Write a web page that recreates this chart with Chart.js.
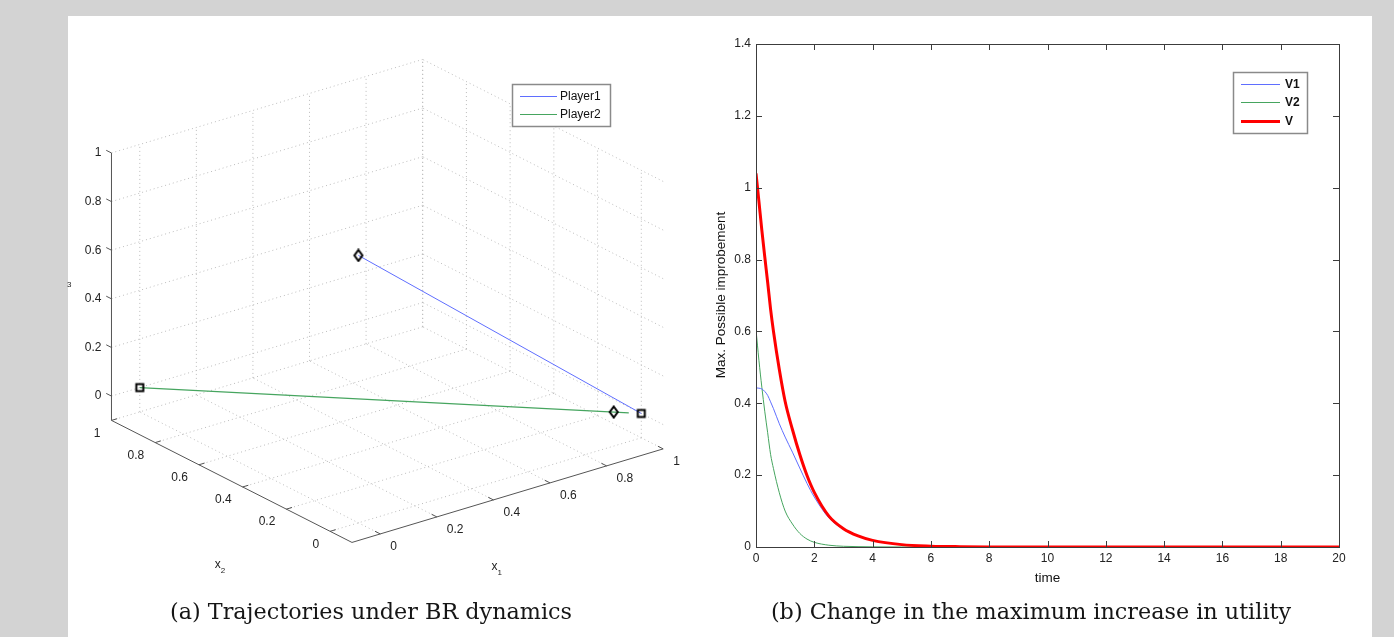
<!DOCTYPE html>
<html>
<head>
<meta charset="utf-8">
<script src="https://cdn.jsdelivr.net/npm/chart.js@4.4.1/dist/chart.umd.min.js"></script>
<style>
body{margin:0;background:#d3d3d3;width:1394px;height:637px;overflow:hidden;position:relative;font-family:"Liberation Sans",Arial,sans-serif}
#panel{position:absolute;left:68px;top:16px;width:1304px;height:621px;background:#fff}
#c1{position:absolute;left:0;top:0}
#c2{position:absolute;left:700px;top:0}
.cap{position:absolute;top:597px;font-family:"DejaVu Serif",serif;font-size:22.3px;line-height:28px;color:#151515;white-space:nowrap;transform:translateX(-50%)}
</style>
</head>
<body>
<div id="panel"></div>
<canvas id="c1" width="700" height="637"></canvas>
<canvas id="c2" width="694" height="637"></canvas>
<div class="cap" style="left:371px">(a) Trajectories under BR dynamics</div>
<div class="cap" style="left:1031px">(b) Change in the maximum increase in utility</div>
<script>
// ---- left plot: trajectories on the simplex (x1, x2, x3) ----
var axisTicks = [0, 0.2, 0.4, 0.6, 0.8, 1];
var axisMin = -0.1, axisMax = 1;
var player1X1 = [0, 1], player1X2 = [0, 0], player1X3 = [1, 0];
var player2X1 = [0, 0.975], player2X2 = [1, 0.025], player2X3 = [0, 0];
// diamond = start, square = end
var diamondX1 = [0, 0.945], diamondX2 = [0, 0.055], diamondX3 = [1, 0];
var squareX1 = [1, 0], squareX2 = [0, 1], squareX3 = [0, 0];

// ---- right plot ----
var timeVals = [0, 0.1, 0.2, 0.3, 0.4, 0.5, 0.6, 0.8, 1.0, 1.25, 1.5, 1.75, 2.0, 2.5, 3.0, 3.5, 4.0, 5.0, 6.0, 7.0, 8.0, 10, 12, 14, 16, 18, 20];
var v1Vals = [0.443, 0.442, 0.440, 0.433, 0.422, 0.404, 0.385, 0.343, 0.306, 0.264, 0.220, 0.177, 0.139, 0.081, 0.049, 0.030, 0.018, 0.0065, 0.0024, 0.0009, 0.0003, 0.0001, 0, 0, 0, 0, 0];
var v2Vals = [0.605, 0.520, 0.445, 0.378, 0.318, 0.258, 0.218, 0.151, 0.100, 0.064, 0.038, 0.022, 0.013, 0.005, 0.002, 0.001, 0.0005, 0.0001, 0, 0, 0, 0, 0, 0, 0, 0, 0];
var vVals = [1.04, 0.962, 0.882, 0.808, 0.737, 0.662, 0.600, 0.494, 0.405, 0.327, 0.258, 0.199, 0.152, 0.086, 0.051, 0.031, 0.0185, 0.0066, 0.0024, 0.0009, 0.0003, 0.0001, 0, 0, 0, 0, 0];
var xTicks2 = [0, 2, 4, 6, 8, 10, 12, 14, 16, 18, 20];

// view of the 3d box (az -37.5, el 30 like matlab), screen units of the left canvas
var view = {ox: 352, oy: 546, ax: [287, -86.4], bx: [-221.8, -112.7], cz: -247};
function proj(x1, x2, x3) {
    var a = x1 - axisMin, b = x2 - axisMin, c = x3 - axisMin;
    return {x: view.ox + a * view.ax[0] + b * view.bx[0], y: view.oy + a * view.ax[1] + b * view.bx[1] + c * view.cz};
}
function seg(list, p, q) {
    list.push(proj(p[0], p[1], p[2]), proj(q[0], q[1], q[2]), {x: null, y: null});
}
function path(a, b, c) {
    var out = [];
    for (var i = 0; i < a.length; i++) out.push(proj(a[i], b[i], c[i]));
    return out;
}

var gridPts = [];
for (var i = 0; i < axisTicks.length; i++) {
    var t = axisTicks[i];
    seg(gridPts, [t, axisMax, axisMin], [t, axisMax, axisMax]);   // back-left wall verticals
    seg(gridPts, [axisMin, axisMax, t], [axisMax, axisMax, t]);   // back-left wall horizontals
    seg(gridPts, [axisMax, t, axisMin], [axisMax, t, axisMax]);   // back-right wall verticals
    seg(gridPts, [axisMax, axisMin, t], [axisMax, axisMax, t]);   // back-right wall horizontals
    seg(gridPts, [t, axisMin, axisMin], [t, axisMax, axisMin]);   // floor
    seg(gridPts, [axisMin, t, axisMin], [axisMax, t, axisMin]);
}
var axisPts = [];
seg(axisPts, [axisMin, axisMin, axisMin], [axisMax, axisMin, axisMin]);
seg(axisPts, [axisMin, axisMin, axisMin], [axisMin, axisMax, axisMin]);
seg(axisPts, [axisMin, axisMax, axisMin], [axisMin, axisMax, axisMax]);
for (var i = 0; i < axisTicks.length; i++) {
    var t = axisTicks[i];
    seg(axisPts, [t, axisMin, axisMin], [t, axisMin + 0.024, axisMin]);
    seg(axisPts, [axisMin, t, axisMin], [axisMin + 0.02, t, axisMin]);
    seg(axisPts, [axisMin, axisMax, t], [axisMin, axisMax + 0.024, t]);
}

function makeMarker(kind) {
    var c = document.createElement('canvas');
    c.width = 12; c.height = 14;
    var g = c.getContext('2d');
    g.strokeStyle = '#000'; g.lineWidth = 2;
    g.beginPath();
    if (kind == 'diamond') {
        g.moveTo(6, 1.5); g.lineTo(10, 7); g.lineTo(6, 12.5); g.lineTo(2, 7); g.closePath();
    } else {
        g.rect(2.5, 3.5, 7, 7);
    }
    g.stroke();
    return c;
}

var labels3d = {
    id: 'labels3d',
    afterDraw: function (chart) {
        var ctx = chart.ctx, sx = chart.scales.x, sy = chart.scales.y;
        function px(p) { return {x: sx.getPixelForValue(p.x), y: sy.getPixelForValue(p.y)}; }
        ctx.save();
        ctx.fillStyle = '#222';
        ctx.font = '12px "Liberation Sans", Arial, sans-serif';
        ctx.textBaseline = 'middle';
        for (var i = 0; i < axisTicks.length; i++) {
            var t = axisTicks[i], txt = String(t), p;
            p = px(proj(t, axisMin, axisMin));
            ctx.textAlign = 'left'; ctx.fillText(txt, p.x + 10, p.y + 13);
            p = px(proj(axisMin, t, axisMin));
            ctx.textAlign = 'right'; ctx.fillText(txt, p.x - 11, p.y + 13);
            p = px(proj(axisMin, axisMax, t));
            ctx.textAlign = 'right'; ctx.fillText(txt, p.x - 10, p.y);
        }
        // axis names
        ctx.textAlign = 'left';
        var a1 = px(proj(0.45, axisMin, axisMin)), a2 = px(proj(axisMin, 0.45, axisMin));
        ctx.font = '12px "Liberation Sans", Arial, sans-serif';
        ctx.fillText('x', a1.x - 16, a1.y + 71);
        ctx.fillText('x', a2.x - 17, a2.y + 83);
        ctx.font = '8px "Liberation Sans", Arial, sans-serif';
        ctx.fillText('1', a1.x - 10, a1.y + 77);
        ctx.fillText('2', a2.x - 11, a2.y + 89);
        ctx.fillText('3', 67, 285);
        // legend
        ctx.fillStyle = '#fff';
        ctx.fillRect(512.5, 84.5, 98, 42);
        ctx.strokeStyle = '#8a8a8a'; ctx.lineWidth = 1.5;
        ctx.strokeRect(512.5, 84.5, 98, 42);
        var items = [['Player1', 'rgb(95,110,255)', 96], ['Player2', 'rgb(70,165,95)', 114]];
        ctx.font = '12px "Liberation Sans", Arial, sans-serif';
        for (var k = 0; k < items.length; k++) {
            ctx.strokeStyle = items[k][1]; ctx.lineWidth = 1;
            ctx.beginPath(); ctx.moveTo(520, items[k][2] + 0.5); ctx.lineTo(557, items[k][2] + 0.5); ctx.stroke();
            ctx.fillStyle = '#111';
            ctx.fillText(items[k][0], 560, items[k][2] + 1);
        }
        ctx.restore();
    }
};

new Chart(document.getElementById('c1'), {
    type: 'scatter',
    data: {
        datasets: [
            {label: 'start', data: path(diamondX1, diamondX2, diamondX3), pointStyle: makeMarker('diamond'), order: 0},
            {label: 'end', data: path(squareX1, squareX2, squareX3), pointStyle: makeMarker('square'), order: 0},
            {label: 'Player1', data: path(player1X1, player1X2, player1X3), showLine: true, borderColor: 'rgb(95,110,255)', borderWidth: 1, pointRadius: 0, order: 1},
            {label: 'Player2', data: path(player2X1, player2X2, player2X3), showLine: true, borderColor: 'rgb(70,165,95)', borderWidth: 1.2, pointRadius: 0, order: 1},
            {label: 'axes', data: axisPts, showLine: true, spanGaps: false, borderColor: '#555', borderWidth: 1, pointRadius: 0, order: 2},
            {label: 'grid', data: gridPts, showLine: true, spanGaps: false, borderColor: '#bcbcbc', borderWidth: 1, borderDash: [1, 3], pointRadius: 0, order: 3}
        ]
    },
    options: {
        responsive: false,
        animation: false,
        layout: {padding: 0},
        plugins: {legend: {display: false}, tooltip: {enabled: false}},
        scales: {
            x: {type: 'linear', min: 0, max: 700, display: false},
            y: {type: 'linear', min: 0, max: 637, reverse: true, display: false}
        }
    },
    plugins: [labels3d]
});

// ---- right chart ----
function pts(ys) {
    var out = [];
    for (var i = 0; i < timeVals.length; i++) out.push({x: timeVals[i], y: ys[i]});
    return out;
}
var frameTicks = {
    id: 'frameTicks',
    afterDraw: function (chart) {
        var ctx = chart.ctx, a = chart.chartArea, xs = chart.scales.x, ys = chart.scales.y;
        ctx.save();
        ctx.strokeStyle = '#3c3c3c'; ctx.lineWidth = 1;
        ctx.strokeRect(Math.round(a.left) + 0.5, Math.round(a.top) + 0.5, Math.round(a.right - a.left), Math.round(a.bottom - a.top));
        ctx.beginPath();
        xs.ticks.forEach(function (t) {
            var p = Math.round(xs.getPixelForValue(t.value)) + 0.5;
            ctx.moveTo(p, a.bottom); ctx.lineTo(p, a.bottom - 6);
            ctx.moveTo(p, a.top); ctx.lineTo(p, a.top + 6);
        });
        ys.ticks.forEach(function (t) {
            var p = Math.round(ys.getPixelForValue(t.value)) + 0.5;
            ctx.moveTo(a.left, p); ctx.lineTo(a.left + 6, p);
            ctx.moveTo(a.right, p); ctx.lineTo(a.right - 6, p);
        });
        ctx.stroke();
        // axis titles
        ctx.fillStyle = '#111';
        ctx.font = '13.5px "Liberation Sans", Arial, sans-serif';
        ctx.textAlign = 'center'; ctx.textBaseline = 'middle';
        ctx.fillText('time', (a.left + a.right) / 2, 578);
        ctx.translate(21, 295); ctx.rotate(-Math.PI / 2);
        ctx.fillText('Max. Possible improbement', 0, 0);
        ctx.setTransform(1, 0, 0, 1, 0, 0);
        // legend
        ctx.fillStyle = '#fff';
        ctx.fillRect(533.5, 72.5, 74, 61);
        ctx.strokeStyle = '#8a8a8a'; ctx.lineWidth = 1.5;
        ctx.strokeRect(533.5, 72.5, 74, 61);
        var items = [['V1', 'rgb(95,110,255)', 1, 84], ['V2', 'rgb(70,165,95)', 1, 102], ['V', 'rgb(255,0,0)', 3, 121]];
        ctx.textAlign = 'left';
        ctx.font = 'bold 12px "Liberation Sans", Arial, sans-serif';
        items.forEach(function (it) {
            ctx.strokeStyle = it[1]; ctx.lineWidth = it[2];
            ctx.beginPath(); ctx.moveTo(541, it[3] + 0.5); ctx.lineTo(580, it[3] + 0.5); ctx.stroke();
            ctx.fillStyle = '#111';
            ctx.fillText(it[0], 585, it[3] + 1);
        });
        ctx.restore();
    }
};

new Chart(document.getElementById('c2'), {
    type: 'line',
    data: {
        datasets: [
            {label: 'V1', data: pts(v1Vals), borderColor: 'rgb(95,110,255)', borderWidth: 1, pointRadius: 0, cubicInterpolationMode: 'monotone', order: 1},
            {label: 'V2', data: pts(v2Vals), borderColor: 'rgb(70,165,95)', borderWidth: 1, pointRadius: 0, cubicInterpolationMode: 'monotone', order: 2},
            {label: 'V', data: pts(vVals), borderColor: 'rgb(255,0,0)', borderWidth: 3, pointRadius: 0, cubicInterpolationMode: 'monotone', order: 0}
        ]
    },
    options: {
        responsive: false,
        animation: false,
        layout: {padding: {left: 0, top: 44, right: 55, bottom: 0}},
        plugins: {legend: {display: false}, tooltip: {enabled: false}},
        scales: {
            x: {
                type: 'linear', min: 0, max: 20,
                afterBuildTicks: function (s) { s.ticks = xTicks2.map(function (v) { return {value: v}; }); },
                afterFit: function (s) { s.height = 90; },
                grid: {display: false, drawTicks: false},
                border: {display: false},
                ticks: {padding: 4, color: '#222', font: {family: '"Liberation Sans", Arial, sans-serif', size: 12}, maxRotation: 0}
            },
            y: {
                type: 'linear', min: 0, max: 1.4,
                ticks: {
                    stepSize: 0.2, padding: 5, color: '#222',
                    font: {family: '"Liberation Sans", Arial, sans-serif', size: 12},
                    callback: function (v) { return String(Math.round(v * 10) / 10); }
                },
                afterFit: function (s) { s.width = 56; },
                grid: {display: false, drawTicks: false},
                border: {display: false}
            }
        }
    },
    plugins: [frameTicks]
});
</script>
</body>
</html>
